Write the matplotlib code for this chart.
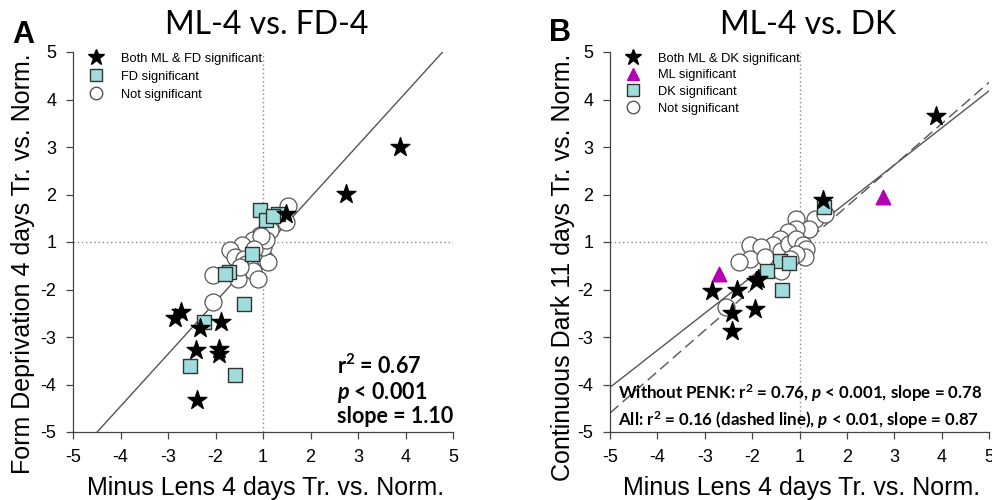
import numpy as np
import matplotlib
matplotlib.use("Agg")
import matplotlib.pyplot as plt
from matplotlib.lines import Line2D

plt.rcParams['font.family'] = ['Liberation Sans', 'DejaVu Sans']
plt.rcParams['mathtext.fontset'] = 'custom'
plt.rcParams['mathtext.rm'] = 'Lato:bold'
plt.rcParams['mathtext.it'] = 'Lato:italic:bold'
plt.rcParams['mathtext.bf'] = 'Lato:bold'

# fold changes (signed, |fc| >= 1), ML-4 on x
# panel A: ML-4 vs FD-4
a_both_x = [3.88, 2.75, 1.49, -2.72, -2.86, -2.33, -1.89, -2.42, -1.93, -1.93, -2.40]
a_both_y = [3.00, 2.02, 1.60, -2.47, -2.59, -2.82, -2.68, -3.28, -3.25, -3.35, -4.33]
a_fd_x = [-1.07, 1.07, 1.32, 1.22, -1.23, -1.72, -1.79, -1.39, -2.24, -2.54, -1.58]
a_fd_y = [1.67, 1.46, 1.60, 1.54, -1.25, -1.63, -1.67, -2.30, -2.68, -3.60, -3.81]
a_ns_x = [1.53, 1.49, 1.14, -1.07, -1.21, -1.44, -1.69, -1.60, -1.39, -1.35, -1.14,
          1.04, 1.11, 1.00, 1.07, -1.04, -1.21, -1.11, -1.53, -2.05, -2.05, -1.49, -1.18]
a_ns_y = [1.75, 1.42, 1.25, 1.14, 1.04, -1.07, -1.16, -1.32, -1.35, -1.46, -1.39,
          -1.35, -1.42, -1.11, 1.04, 1.12, -1.60, -1.77, -1.77, -1.70, -2.26, -1.53, -1.14]

# panel B: ML-4 vs DK
b_both_x = [3.88, 1.49, -2.84, -2.32, -1.88, -1.91, -1.93, -2.42, -2.42]
b_both_y = [3.65, 1.88, -2.03, -2.00, -1.77, -1.82, -2.40, -2.49, -2.88]
b_ml_x = [-2.70, 2.76]
b_ml_y = [-1.68, 1.95]
b_dk_x = [1.51, -1.41, -1.23, -1.69, -1.37]
b_dk_y = [1.74, -1.39, -1.44, -1.61, -2.00]
b_ns_x = [-1.07, 1.32, 1.53, 1.21, -1.07, -1.25, -1.42, -1.56, -2.05, -1.81, -2.05, -2.27,
          -1.72, -1.39, -1.23, -1.07, 1.07, 1.14, 1.11, -1.07, -1.39, -2.55, -1.21]
b_ns_y = [1.49, 1.49, 1.60, 1.28, 1.28, 1.21, 1.07, -1.07, -1.07, -1.11, -1.35, -1.42,
          -1.32, -1.18, -1.04, 1.07, -1.07, -1.14, -1.32, -1.25, -1.60, -2.37, -1.35]

tick_pos = np.arange(-4, 5)
tick_lab = ['-5', '-4', '-3', '-2', '1', '2', '3', '4', '5']

# regression lines (slope, intercept) on the collapsed axis
fit_a = (1.10, -0.16)
fit_b = (0.78, 0.06)
fit_b_all = (0.87, -0.12)

cyan = '#a0dcdc'
magenta = '#b400b4'


def fc(v):
    # fold change -> continuous axis position (-1 and 1 collapse to 0)
    v = np.asarray(v, dtype=float)
    return np.sign(v) * (np.abs(v) - 1)


def style_axis(ax):
    ax.set_xlim(-4, 4)
    ax.set_ylim(-4, 4)
    ax.set_xticks(tick_pos)
    ax.set_xticklabels(tick_lab)
    ax.set_yticks(tick_pos)
    ax.set_yticklabels(tick_lab)
    for s in ['top', 'right']:
        ax.spines[s].set_visible(False)
    for s in ['left', 'bottom']:
        ax.spines[s].set_color('#444444')
        ax.spines[s].set_linewidth(0.9)
    ax.tick_params(direction='out', length=5, width=0.9, color='#444444',
                   labelsize=13, pad=7)
    ax.axvline(0, color='#888888', ls=(0, (1, 2)), lw=1, zorder=0)
    ax.axhline(0, color='#888888', ls=(0, (1, 2)), lw=1, zorder=0)


def draw_fit(ax, fit, ls='-'):
    xs = np.array([-4.0, 4.0])
    ax.plot(xs, fit[0] * xs + fit[1], color='#555555', lw=1, ls=ls, zorder=1)


fig = plt.figure(figsize=(9.92, 5.0), dpi=100)
axA = fig.add_axes([73 / 992, 68 / 500, 380 / 992, 380 / 500])
axB = fig.add_axes([610 / 992, 68 / 500, 379 / 992, 380 / 500])

# ---- A ----
style_axis(axA)
draw_fit(axA, fit_a)
axA.scatter(fc(a_ns_x), fc(a_ns_y), s=150, facecolor='white', edgecolor='#555555', lw=0.9, zorder=2)
axA.scatter(fc(a_fd_x), fc(a_fd_y), s=110, marker='s', facecolor=cyan, edgecolor='#333333', lw=1, zorder=3)
axA.scatter(fc(a_both_x), fc(a_both_y), s=200, marker='*', color='black', zorder=4)

hA = [Line2D([], [], ls='', marker='*', ms=12, color='black'),
      Line2D([], [], ls='', marker='s', ms=8, mfc=cyan, mec='#333333'),
      Line2D([], [], ls='', marker='o', ms=9, mfc='white', mec='#555555')]
axA.legend(hA, ['Both ML & FD significant', 'FD significant', 'Not significant'],
           loc='upper left', bbox_to_anchor=(0.0, 1.025), frameon=False, fontsize=9.3,
           labelspacing=0.45, handletextpad=0.9, borderaxespad=0.4)

stat_kw = dict(transform=axA.transAxes, fontsize=15.5, family='Lato', weight='bold', va='center')
axA.text(0.695, 0.175, 'r$^{2}$ = 0.67', **stat_kw)
axA.text(0.695, 0.105, '$\\mathit{p}$ < 0.001', **stat_kw)
axA.text(0.695, 0.040, 'slope = 1.10', **stat_kw)

# ---- B ----
style_axis(axB)
draw_fit(axB, fit_b)
draw_fit(axB, fit_b_all, ls=(0, (8, 4)))
axB.scatter(fc(b_ns_x), fc(b_ns_y), s=150, facecolor='white', edgecolor='#555555', lw=0.9, zorder=2)
axB.scatter(fc(b_dk_x), fc(b_dk_y), s=110, marker='s', facecolor=cyan, edgecolor='#333333', lw=1, zorder=3)
axB.scatter(fc(b_ml_x), fc(b_ml_y), s=110, marker='^', color=magenta, zorder=4)
axB.scatter(fc(b_both_x), fc(b_both_y), s=200, marker='*', color='black', zorder=4)

hB = [Line2D([], [], ls='', marker='*', ms=12, color='black'),
      Line2D([], [], ls='', marker='^', ms=9, color=magenta),
      Line2D([], [], ls='', marker='s', ms=8, mfc=cyan, mec='#333333'),
      Line2D([], [], ls='', marker='o', ms=9, mfc='white', mec='#555555')]
axB.legend(hB, ['Both ML & DK significant', 'ML significant', 'DK significant', 'Not significant'],
           loc='upper left', bbox_to_anchor=(0.0, 1.025), frameon=False, fontsize=9.3,
           labelspacing=0.35, handletextpad=0.9, borderaxespad=0.4)

axB.text(0.02, 0.102, 'Without PENK: r$^{2}$ = 0.76, $\\mathit{p}$ < 0.001, slope = 0.78',
         transform=axB.transAxes, fontsize=12.2, family='Lato', weight='bold', va='center')
axB.text(0.02, 0.031, 'All: r$^{2}$ = 0.16 (dashed line), $\\mathit{p}$ < 0.01, slope = 0.87',
         transform=axB.transAxes, fontsize=12.2, family='Lato', weight='bold', va='center')

# titles, panel letters, axis labels
fig.text(267 / 992, 1 - 25 / 500, 'ML-4 vs. FD-4', ha='center', va='center', fontsize=23, family='Lato')
fig.text(808 / 992, 1 - 25 / 500, 'ML-4 vs. DK', ha='center', va='center', fontsize=23, family='Lato')
fig.text(23 / 992, 1 - 35 / 500, 'A', ha='center', va='center', fontsize=22, weight='bold')
fig.text(560 / 992, 1 - 33 / 500, 'B', ha='center', va='center', fontsize=22, weight='bold')

fig.text(23 / 992, 1 - 264 / 500, 'Form Deprivation 4 days Tr. vs. Norm.', rotation=90,
         ha='center', va='center', fontsize=18)
fig.text(563 / 992, 1 - 267 / 500, 'Continuous Dark 11 days Tr. vs. Norm.', rotation=90,
         ha='center', va='center', fontsize=18)
fig.text(266 / 992, 1 - 488 / 500, 'Minus Lens 4 days Tr. vs. Norm.', ha='center', va='center',
         fontsize=18)
fig.text(802 / 992, 1 - 488 / 500, 'Minus Lens 4 days Tr. vs. Norm.', ha='center', va='center',
         fontsize=18)

fig.savefig('out.png', dpi=100)
